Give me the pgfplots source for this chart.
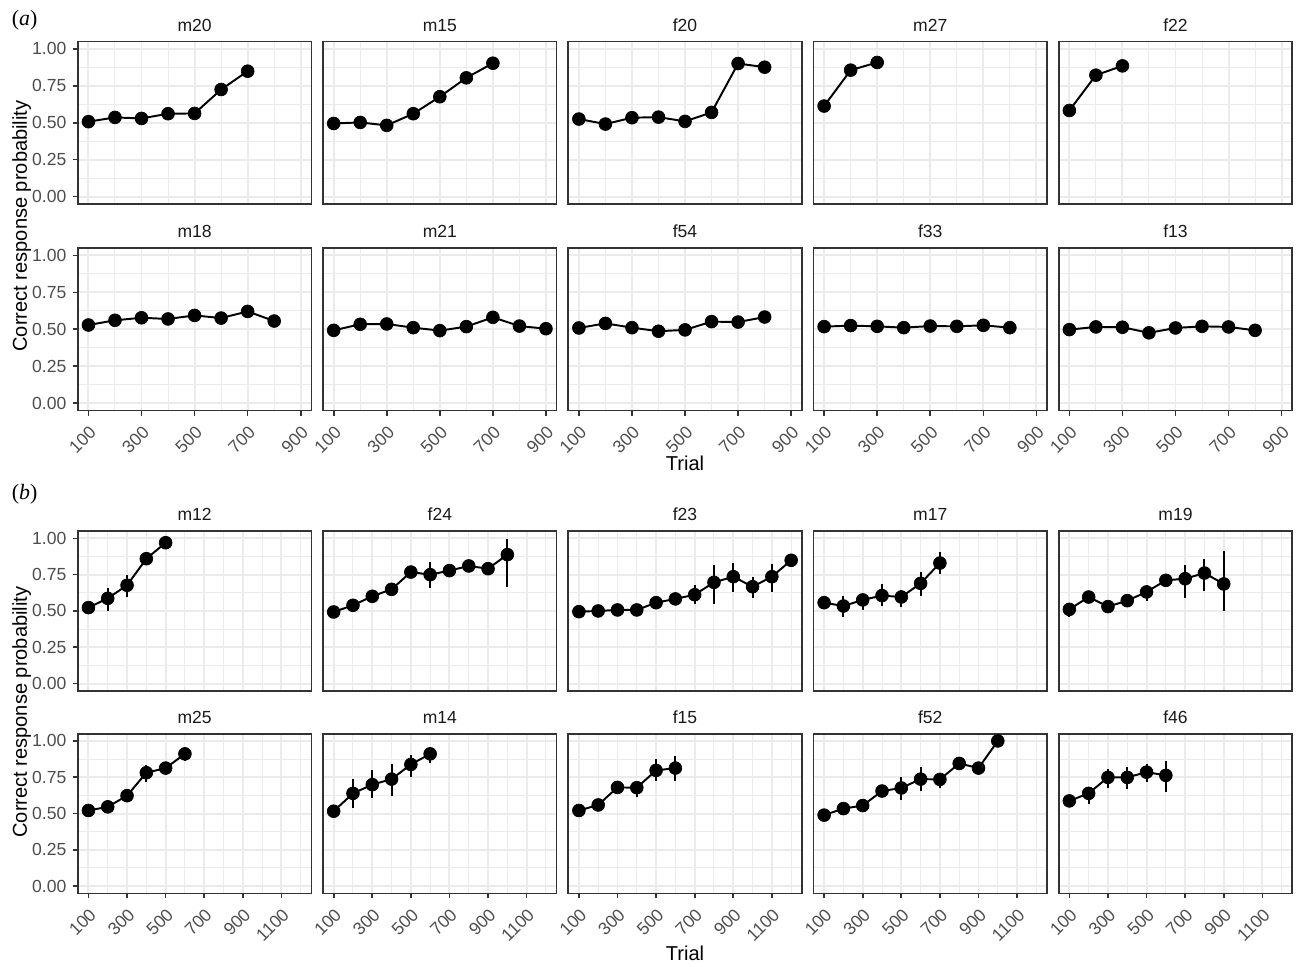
\documentclass[border=0pt]{standalone}
\usepackage{pgfplots}
\pgfplotsset{compat=1.18}
\usepackage{fontspec}
\setmainfont{Liberation Sans}
\newfontfamily\seriffont{Liberation Serif}
\definecolor{gridc}{HTML}{EBEBEB}
\definecolor{borderc}{HTML}{333333}
\definecolor{tickc}{HTML}{4D4D4D}
\definecolor{stripc}{HTML}{1A1A1A}
\pgfplotsset{
  panel/.style={
    scale only axis, width=127.86pt, anchor=south west,
    ymin=-0.05, ymax=1.05,
    ytick={0,0.25,0.5,0.75,1},
    minor ytick={0.125,0.375,0.625,0.875},
    yticklabels={0.00,0.25,0.50,0.75,1.00},
    grid=both,
    major grid style={gridc, line width=1.07pt},
    minor grid style={gridc, line width=0.53pt},
    axis line style={borderc, line width=0.9pt},
    tick style={borderc, line width=0.9pt},
    major tick length=2.75pt, minor tick length=0pt,
    tick align=outside,
    xtick pos=bottom, ytick pos=left,
    tick label style={font=\fontsize{9.6}{11}\selectfont, text=tickc},
    xticklabel style={rotate=45, anchor=north east},
    title style={font=\fontsize{9.6}{11}\selectfont, text=stripc, at={(0.5,1)}, anchor=base, yshift=-0.4pt},
  },
  secA/.style={panel, height=88.95pt, xmin=60, xmax=940,
    xtick={100,300,500,700,900}, minor xtick={200,400,600,800},
    xticklabels={100,300,500,700,900}},
  secB/.style={panel, height=87.45pt, xmin=45, xmax=1255,
    xtick={100,300,500,700,900,1100}, minor xtick={200,400,600,800,1000,1200},
    xticklabels={100,300,500,700,900,1100}},
  othercol/.style={yticklabels={}, ymajorticks=false},
  toprow/.style={xticklabels={}, xmajorticks=false},
  dat/.style={black, line width=1.07pt, mark=*, mark size=3.5pt,
    mark options={line width=0.4pt, solid, fill=black}},
  ebar/.style={dat, error bars/.cd, y dir=both, y explicit, error mark=none,
    error bar style={line width=1.07pt, black}},
}
\begin{document}
\begin{tikzpicture}
\path (0pt,0pt) rectangle (709.77pt,-527.82pt);
% ---------------- (a) row 1
\begin{axis}[secA, toprow, at={(42.62pt,-111.68pt)}, title={m20}]
\addplot[dat] coordinates {(100,0.507)(200,0.536)(300,0.529)(400,0.561)(500,0.563)(600,0.725)(700,0.849)};
\end{axis}
\begin{axis}[secA, toprow, othercol, at={(176.90pt,-111.68pt)}, title={m15}]
\addplot[dat] coordinates {(100,0.495)(200,0.502)(300,0.482)(400,0.561)(500,0.676)(600,0.804)(700,0.903)};
\end{axis}
\begin{axis}[secA, toprow, othercol, at={(311.17pt,-111.68pt)}, title={f20}]
\addplot[dat] coordinates {(100,0.525)(200,0.491)(300,0.534)(400,0.538)(500,0.509)(600,0.570)(700,0.901)(800,0.876)};
\end{axis}
\begin{axis}[secA, toprow, othercol, at={(445.45pt,-111.68pt)}, title={m27}]
\addplot[dat] coordinates {(100,0.613)(200,0.856)(300,0.908)};
\end{axis}
\begin{axis}[secA, toprow, othercol, at={(579.73pt,-111.68pt)}, title={f22}]
\addplot[dat] coordinates {(100,0.583)(200,0.822)(300,0.885)};
\end{axis}
% ---------------- (a) row 2
\begin{axis}[secA, at={(42.62pt,-224.79pt)}, title={m18}]
\addplot[dat] coordinates {(100,0.529)(200,0.561)(300,0.578)(400,0.570)(500,0.594)(600,0.576)(700,0.621)(800,0.556)};
\end{axis}
\begin{axis}[secA, othercol, at={(176.90pt,-224.79pt)}, title={m21}]
\addplot[dat] coordinates {(100,0.493)(200,0.534)(300,0.536)(400,0.511)(500,0.491)(600,0.518)(700,0.581)(800,0.522)(900,0.504)};
\end{axis}
\begin{axis}[secA, othercol, at={(311.17pt,-224.79pt)}, title={f54}]
\addplot[dat] coordinates {(100,0.509)(200,0.540)(300,0.511)(400,0.487)(500,0.496)(600,0.552)(700,0.549)(800,0.583)};
\end{axis}
\begin{axis}[secA, othercol, at={(445.45pt,-224.79pt)}, title={f33}]
\addplot[dat] coordinates {(100,0.518)(200,0.525)(300,0.520)(400,0.511)(500,0.522)(600,0.520)(700,0.527)(800,0.511)};
\end{axis}
\begin{axis}[secA, othercol, at={(579.73pt,-224.79pt)}, title={f13}]
\addplot[dat] coordinates {(100,0.498)(200,0.516)(300,0.514)(400,0.476)(500,0.509)(600,0.520)(700,0.516)(800,0.493)};
\end{axis}
% ---------------- (b) row 1
\begin{axis}[secB, toprow, at={(42.62pt,-378.27pt)}, title={m12}]
\addplot[ebar] table[x=x,y=y,y error plus=ep,y error minus=em,row sep=\\] {
x y ep em\\ 100 0.523 0.02 0.02\\ 200 0.587 0.07 0.09\\ 300 0.677 0.07 0.08\\ 400 0.860 0.02 0.02\\ 500 0.970 0.01 0.01\\};
\end{axis}
\begin{axis}[secB, toprow, othercol, at={(176.90pt,-378.27pt)}, title={f24}]
\addplot[ebar] table[x=x,y=y,y error plus=ep,y error minus=em,row sep=\\] {
x y ep em\\ 100 0.493 0.02 0.02\\ 200 0.539 0.02 0.02\\ 300 0.601 0.02 0.02\\ 400 0.649 0.02 0.02\\ 500 0.768 0.03 0.02\\ 600 0.750 0.089 0.092\\ 700 0.778 0.02 0.02\\ 800 0.810 0.02 0.02\\ 900 0.791 0.02 0.02\\ 1000 0.888 0.11 0.223\\};
\end{axis}
\begin{axis}[secB, toprow, othercol, at={(311.17pt,-378.27pt)}, title={f23}]
\addplot[ebar] table[x=x,y=y,y error plus=ep,y error minus=em,row sep=\\] {
x y ep em\\ 100 0.495 0.02 0.02\\ 200 0.500 0.02 0.02\\ 300 0.507 0.02 0.02\\ 400 0.507 0.02 0.02\\ 500 0.557 0.02 0.02\\ 600 0.583 0.02 0.02\\ 700 0.612 0.069 0.062\\ 800 0.697 0.122 0.147\\ 900 0.736 0.094 0.108\\ 1000 0.667 0.065 0.075\\ 1100 0.736 0.087 0.108\\ 1200 0.849 0.02 0.02\\};
\end{axis}
\begin{axis}[secB, toprow, othercol, at={(445.45pt,-378.27pt)}, title={m17}]
\addplot[ebar] table[x=x,y=y,y error plus=ep,y error minus=em,row sep=\\] {
x y ep em\\ 100 0.557 0.02 0.02\\ 200 0.534 0.072 0.078\\ 300 0.576 0.043 0.067\\ 400 0.606 0.077 0.074\\ 500 0.596 0.051 0.068\\ 600 0.690 0.081 0.089\\ 700 0.830 0.074 0.073\\};
\end{axis}
\begin{axis}[secB, toprow, othercol, at={(579.73pt,-378.27pt)}, title={m19}]
\addplot[ebar] table[x=x,y=y,y error plus=ep,y error minus=em,row sep=\\] {
x y ep em\\ 100 0.511 0.044 0.052\\ 200 0.596 0.02 0.02\\ 300 0.530 0.02 0.02\\ 400 0.571 0.02 0.02\\ 500 0.631 0.048 0.064\\ 600 0.711 0.02 0.02\\ 700 0.722 0.097 0.134\\ 800 0.761 0.097 0.123\\ 900 0.686 0.227 0.188\\};
\end{axis}
% ---------------- (b) row 2
\begin{axis}[secB, at={(42.62pt,-489.19pt)}, title={m25}]
\addplot[ebar] table[x=x,y=y,y error plus=ep,y error minus=em,row sep=\\] {
x y ep em\\ 100 0.521 0.02 0.02\\ 200 0.546 0.02 0.02\\ 300 0.623 0.037 0.043\\ 400 0.781 0.050 0.064\\ 500 0.813 0.041 0.050\\ 600 0.911 0.034 0.050\\};
\end{axis}
\begin{axis}[secB, othercol, at={(176.90pt,-489.19pt)}, title={m14}]
\addplot[ebar] table[x=x,y=y,y error plus=ep,y error minus=em,row sep=\\] {
x y ep em\\ 100 0.516 0.02 0.02\\ 200 0.639 0.101 0.100\\ 300 0.699 0.100 0.092\\ 400 0.737 0.103 0.116\\ 500 0.838 0.066 0.089\\ 600 0.911 0.050 0.064\\};
\end{axis}
\begin{axis}[secB, othercol, at={(311.17pt,-489.19pt)}, title={f15}]
\addplot[ebar] table[x=x,y=y,y error plus=ep,y error minus=em,row sep=\\] {
x y ep em\\ 100 0.521 0.02 0.02\\ 200 0.559 0.02 0.02\\ 300 0.680 0.02 0.02\\ 400 0.678 0.03 0.064\\ 500 0.797 0.080 0.076\\ 600 0.813 0.082 0.089\\};
\end{axis}
\begin{axis}[secB, othercol, at={(445.45pt,-489.19pt)}, title={f52}]
\addplot[ebar] table[x=x,y=y,y error plus=ep,y error minus=em,row sep=\\] {
x y ep em\\ 100 0.489 0.02 0.02\\ 200 0.534 0.02 0.02\\ 300 0.555 0.02 0.02\\ 400 0.655 0.02 0.02\\ 500 0.676 0.077 0.082\\ 600 0.737 0.085 0.082\\ 700 0.735 0.039 0.059\\ 800 0.845 0.02 0.02\\ 900 0.813 0.02 0.02\\ 1000 1.000 0 0\\};
\end{axis}
\begin{axis}[secB, othercol, at={(579.73pt,-489.19pt)}, title={f46}]
\addplot[ebar] table[x=x,y=y,y error plus=ep,y error minus=em,row sep=\\] {
x y ep em\\ 100 0.587 0.02 0.02\\ 200 0.639 0.046 0.073\\ 300 0.749 0.059 0.073\\ 400 0.749 0.073 0.082\\ 500 0.785 0.057 0.068\\ 600 0.763 0.096 0.114\\};
\end{axis}
% ---------------- labels
\node[anchor=base west, font=\seriffont\fontsize{12}{14}\selectfont] at (3.0pt,-14.0pt) {(\textit{a})};
\node[anchor=base west, font=\seriffont\fontsize{12}{14}\selectfont] at (3.0pt,-273.3pt) {(\textit{b})};
\node[rotate=90, anchor=base, font=\fontsize{11}{13}\selectfont] at (14.75pt,-123.76pt) {Correct response probability};
\node[rotate=90, anchor=base, font=\fontsize{11}{13}\selectfont] at (14.75pt,-389.9pt) {Correct response probability};
\node[anchor=base, font=\fontsize{11}{13}\selectfont] at (375.1pt,-257.9pt) {Trial};
\node[anchor=base, font=\fontsize{11}{13}\selectfont] at (375.1pt,-525.9pt) {Trial};
\end{tikzpicture}
\end{document}
